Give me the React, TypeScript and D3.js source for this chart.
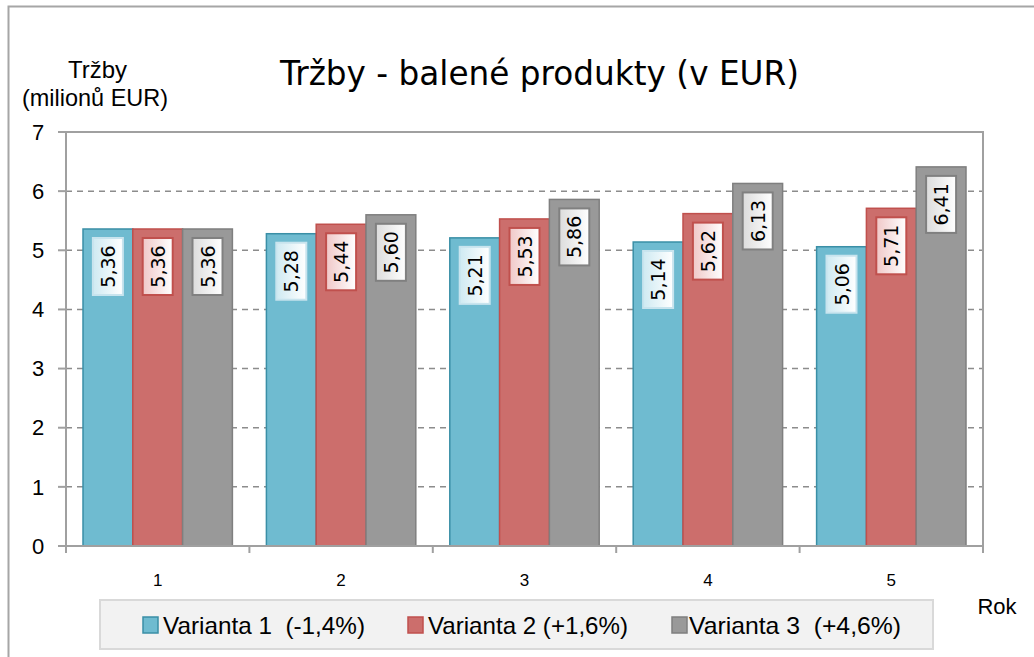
import React, { useRef, useEffect } from "react";
import * as d3 from "d3";

const years = ["1", "2", "3", "4", "5"];
const seriesNames = ["Varianta 1  (-1,4%)", "Varianta 2 (+1,6%)", "Varianta 3  (+4,6%)"];
const variant1 = [5.36, 5.28, 5.21, 5.14, 5.06];
const variant2 = [5.36, 5.44, 5.53, 5.62, 5.71];
const variant3 = [5.36, 5.6, 5.86, 6.13, 6.41];
const yTicks = [0, 1, 2, 3, 4, 5, 6, 7];

const fills = ["#6fbbd0", "#cc6e6c", "#999999"];
const strokes = ["#3a8fa6", "#c0504d", "#7f7f7f"];
const labelTop = ["#cfeaf2", "#f0c8c8", "#dcdcdc"];
const labelBorder = ["#c8e4ee", "#c0504d", "#808080"];

const W = 1034;
const H = 657;
const narrow = "Liberation Sans Narrow, Liberation Sans";

export default function App() {
  const svgRef = useRef(null);

  useEffect(() => {
    const svg = d3.select(svgRef.current);
    svg.selectAll("*").remove();

    const left = 66, right = 983, top = 132, bottom = 546;
    const series = [variant1, variant2, variant3];

    const x0 = d3.scaleBand().domain(years).range([left, right]);
    const x1 = d3
      .scaleBand()
      .domain(["0", "1", "2"])
      .range([17, x0.bandwidth() - 17]);
    const y = d3.scaleLinear().domain([0, 7]).range([bottom, top]);

    // gradients for value boxes
    const defs = svg.append("defs");
    labelTop.forEach((c, i) => {
      const g = defs
        .append("linearGradient")
        .attr("id", "lg" + i)
        .attr("x1", "0")
        .attr("y1", "0")
        .attr("x2", "1")
        .attr("y2", "0");
      g.append("stop").attr("offset", "0%").attr("stop-color", c);
      g.append("stop").attr("offset", "100%").attr("stop-color", "#ffffff");
    });

    // outer frame
    svg
      .append("path")
      .attr("d", `M8.5,${H} L8.5,6.5 L${W},6.5`)
      .attr("fill", "none")
      .attr("stroke", "#a6a6a6")
      .attr("stroke-width", 2);

    // gridlines
    svg
      .append("g")
      .selectAll("line")
      .data(yTicks.filter((t) => t > 0 && t < 7))
      .join("line")
      .attr("x1", left)
      .attr("x2", right)
      .attr("y1", (d) => y(d))
      .attr("y2", (d) => y(d))
      .attr("stroke", "#8c8c8c")
      .attr("stroke-width", 1.5)
      .attr("stroke-dasharray", "6,5");

    // bars
    series.forEach((vals, si) => {
      const g = svg.append("g");
      g.selectAll("rect")
        .data(vals)
        .join("rect")
        .attr("x", (d, i) => x0(years[i]) + x1(String(si)))
        .attr("y", (d) => y(d))
        .attr("width", x1.bandwidth())
        .attr("height", (d) => bottom - y(d))
        .attr("fill", fills[si])
        .attr("stroke", strokes[si])
        .attr("stroke-width", 1.5);
    });

    // plot frame
    svg
      .append("rect")
      .attr("x", left)
      .attr("y", top)
      .attr("width", right - left)
      .attr("height", bottom - top)
      .attr("fill", "none")
      .attr("stroke", "#a0a0a0")
      .attr("stroke-width", 2);

    // value boxes
    series.forEach((vals, si) => {
      vals.forEach((v, i) => {
        const cx = x0(years[i]) + x1(String(si)) + x1.bandwidth() / 2;
        const bt = y(v) + 9;
        svg
          .append("rect")
          .attr("x", cx - 15)
          .attr("y", bt)
          .attr("width", 30)
          .attr("height", 57)
          .attr("fill", `url(#lg${si})`)
          .attr("stroke", labelBorder[si])
          .attr("stroke-width", 2);
        svg
          .append("text")
          .attr("transform", `translate(${cx + 7},${bt + 28.5}) rotate(-90)`)
          .attr("text-anchor", "middle")
          .style("font-family", "DejaVu Sans")
          .style("font-size", "19px")
          .attr("fill", "#000")
          .text(d3.format(".2f")(v).replace(".", ","));
      });
    });

    // y axis ticks and labels
    const yg = svg.append("g");
    yTicks.forEach((t) => {
      yg.append("line")
        .attr("x1", 58)
        .attr("x2", left)
        .attr("y1", y(t))
        .attr("y2", y(t))
        .attr("stroke", "#a0a0a0")
        .attr("stroke-width", 2);
      yg.append("text")
        .attr("x", 38)
        .attr("y", y(t))
        .attr("dy", "0.35em")
        .attr("text-anchor", "middle")
        .style("font-family", narrow)
        .style("font-size", "22px")
        .text(t);
    });

    // x axis ticks and labels
    const xg = svg.append("g");
    d3.range(years.length + 1).forEach((i) => {
      const xx = left + i * x0.step();
      xg.append("line")
        .attr("x1", xx)
        .attr("x2", xx)
        .attr("y1", bottom)
        .attr("y2", bottom + 7)
        .attr("stroke", "#a0a0a0")
        .attr("stroke-width", 2);
    });
    years.forEach((yr) => {
      xg.append("text")
        .attr("x", x0(yr) + x0.bandwidth() / 2)
        .attr("y", 580)
        .attr("dy", "0.35em")
        .attr("text-anchor", "middle")
        .style("font-family", narrow)
        .style("font-size", "17px")
        .text(yr);
    });

    // title
    svg
      .append("text")
      .attr("x", 280)
      .attr("y", 85)
      .attr("textLength", 519)
      .attr("lengthAdjust", "spacingAndGlyphs")
      .style("font-family", "DejaVu Sans")
      .style("font-size", "34px")
      .text("Tržby - balené produkty (v EUR)");

    // y axis label
    svg
      .append("text")
      .attr("x", 68)
      .attr("y", 78)
      .attr("textLength", 59)
      .attr("lengthAdjust", "spacingAndGlyphs")
      .style("font-family", narrow)
      .style("font-size", "24px")
      .text("Tržby");
    svg
      .append("text")
      .attr("x", 22)
      .attr("y", 106)
      .attr("textLength", 146)
      .attr("lengthAdjust", "spacingAndGlyphs")
      .style("font-family", narrow)
      .style("font-size", "24px")
      .text("(milionů EUR)");

    // x axis label
    svg
      .append("text")
      .attr("x", 997)
      .attr("y", 614)
      .attr("text-anchor", "middle")
      .style("font-family", narrow)
      .style("font-size", "22px")
      .text("Rok");

    // legend
    const legend = svg.append("g");
    legend
      .append("rect")
      .attr("x", 100)
      .attr("y", 600)
      .attr("width", 833)
      .attr("height", 49)
      .attr("fill", "#f2f2f2")
      .attr("stroke", "#d9d9d9")
      .attr("stroke-width", 2);
    const legendX = [143, 408, 672];
    const textX = [163, 428, 689];
    const textW = [202, 200, 212];
    seriesNames.forEach((name, i) => {
      legend
        .append("rect")
        .attr("x", legendX[i])
        .attr("y", 617)
        .attr("width", 15)
        .attr("height", 16)
        .attr("fill", fills[i])
        .attr("stroke", strokes[i])
        .attr("stroke-width", 1.5);
      legend
        .append("text")
        .attr("x", textX[i])
        .attr("y", 625)
        .attr("dy", "0.36em")
        .attr("textLength", textW[i])
        .attr("lengthAdjust", "spacingAndGlyphs")
        .style("font-family", narrow)
        .style("font-size", "24px")
        .attr("xml:space", "preserve")
        .style("white-space", "pre")
        .text(name);
    });
  }, []);

  return <svg ref={svgRef} width={W} height={H} style={{ display: "block", position: "absolute", left: 0, top: 0 }}></svg>;
}
